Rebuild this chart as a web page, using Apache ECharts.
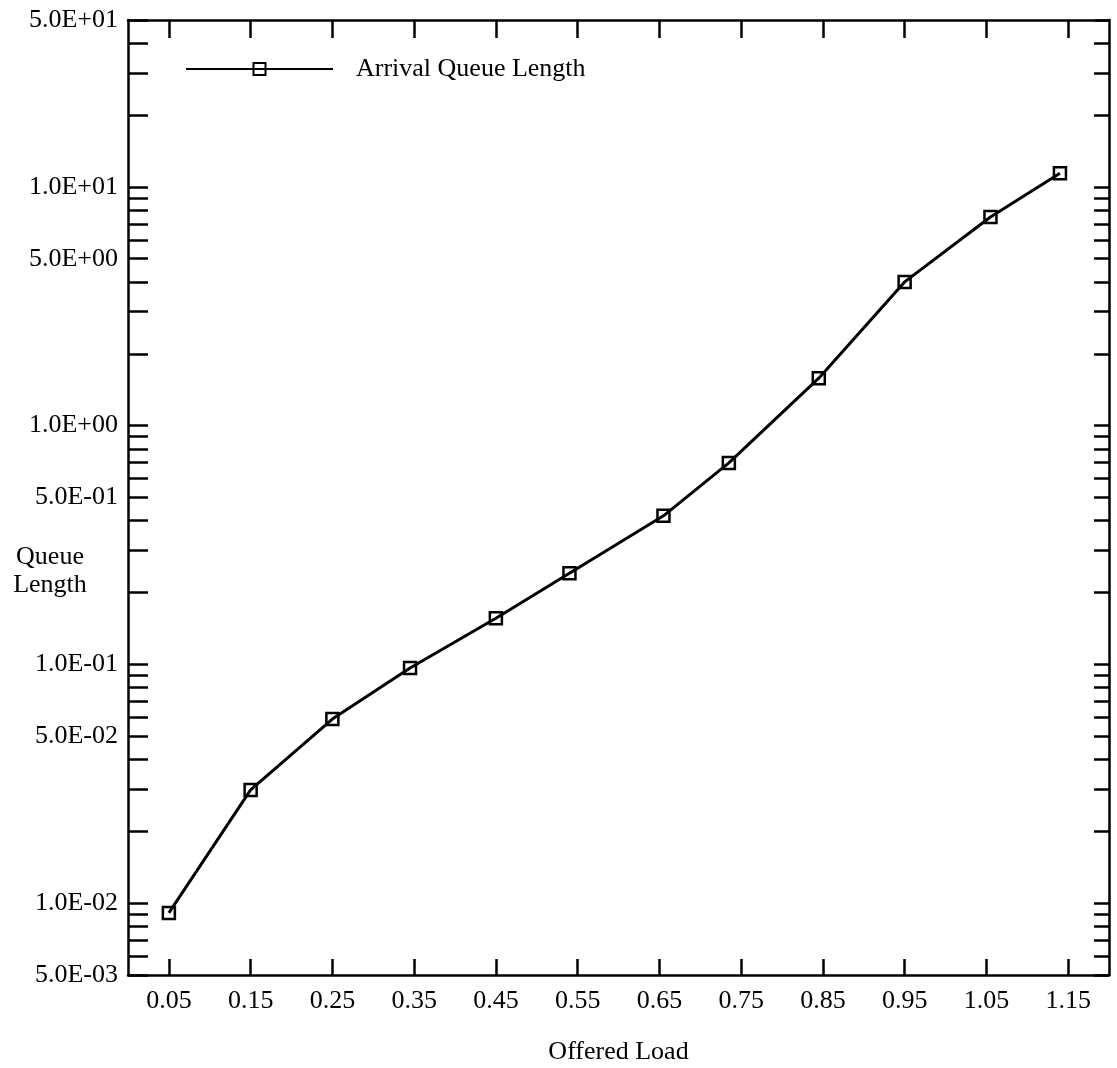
<!DOCTYPE html>
<html><head><meta charset="utf-8">
<script src="https://cdn.jsdelivr.net/npm/echarts@6/dist/echarts.min.js"></script>
<style>html,body{margin:0;padding:0;background:#fff}#c{width:1117px;height:1068px}</style>
</head><body><div id="c"></div>
<script>
const offeredLoad = [0.05, 0.15, 0.25, 0.345, 0.45, 0.54, 0.655, 0.735, 0.845, 0.95, 1.055, 1.14];
const arrivalQueueLength = [0.0091, 0.0298, 0.059, 0.0966, 0.156, 0.241, 0.419, 0.698, 1.58, 4.0, 7.48, 11.4];
const xTickLabels = [0.05, 0.15, 0.25, 0.35, 0.45, 0.55, 0.65, 0.75, 0.85, 0.95, 1.05, 1.15];
const yTickLabels = [0.005, 0.01, 0.05, 0.1, 0.5, 1, 5, 10, 50];
const yTicks = [0.005, 0.006, 0.007, 0.008, 0.009,
  0.01, 0.02, 0.03, 0.04, 0.05, 0.06, 0.07, 0.08, 0.09,
  0.1, 0.2, 0.3, 0.4, 0.5, 0.6, 0.7, 0.8, 0.9,
  1, 2, 3, 4, 5, 6, 7, 8, 9,
  10, 20, 30, 40, 50];

const FONT = 'Liberation Serif';
const FS = 26;
function fmtY(v) {
  const parts = Number(v).toExponential(1).split('e');
  const e = parseInt(parts[1], 10);
  const sign = e < 0 ? '-' : '+';
  const abs = Math.abs(e);
  return parts[0] + 'E' + sign + (abs < 10 ? '0' + abs : '' + abs);
}
const axisLineStyle = { color: '#000', width: 2.5 };
const tickStyle = { color: '#000', width: 2.5 };

const chart = echarts.init(document.getElementById('c'), null, { renderer: 'canvas' });
chart.setOption({
  animation: false,
  backgroundColor: '#fff',
  grid: { left: 128, right: 8, top: 20, bottom: 93, containLabel: false, outerBoundsMode: 'none' },
  legend: {
    data: ['Arrival Queue Length'],
    left: 185, top: 56, padding: 0,
    itemWidth: 147, itemHeight: 15,
    textStyle: { fontFamily: FONT, fontSize: FS, color: '#000', padding: [0, 0, 0, 18] }
  },
  xAxis: [{
    type: 'value', position: 'bottom', min: 0, max: 1.2,
    axisLine: { onZero: false, lineStyle: axisLineStyle },
    axisTick: { inside: true, length: 16, customValues: xTickLabels, lineStyle: tickStyle },
    axisLabel: { customValues: xTickLabels, formatter: v => Number(v).toFixed(2),
      fontFamily: FONT, fontSize: FS, color: '#000', margin: 13 },
    splitLine: { show: false },
    name: 'Offered Load', nameLocation: 'middle', nameGap: 64, nameMoveOverlap: false,
    nameTextStyle: { fontFamily: FONT, fontSize: FS, color: '#000' }
  }, {
    type: 'value', position: 'top', min: 0, max: 1.2,
    axisLine: { onZero: false, lineStyle: axisLineStyle },
    axisTick: { inside: true, length: 18, customValues: xTickLabels, lineStyle: tickStyle },
    axisLabel: { show: false },
    splitLine: { show: false }
  }],
  yAxis: [{
    type: 'log', logBase: 10, position: 'left', min: 0.005, max: 50,
    axisLine: { onZero: false, lineStyle: axisLineStyle },
    axisTick: { inside: true, length: 20, customValues: yTicks, lineStyle: tickStyle },
    axisLabel: { customValues: yTickLabels, formatter: fmtY,
      fontFamily: FONT, fontSize: FS, color: '#000', margin: 10 },
    splitLine: { show: false },
    minorTick: { show: false },
    name: 'Queue\nLength', nameLocation: 'middle', nameRotate: 0, nameGap: 78, nameMoveOverlap: false,
    nameTextStyle: { fontFamily: FONT, fontSize: FS, color: '#000', align: 'center',
      verticalAlign: 'top', lineHeight: 28, padding: [46, 0, 0, 0] }
  }, {
    type: 'log', logBase: 10, position: 'right', min: 0.005, max: 50,
    axisLine: { onZero: false, lineStyle: axisLineStyle },
    axisTick: { inside: true, length: 15, customValues: yTicks, lineStyle: tickStyle },
    axisLabel: { show: false },
    splitLine: { show: false },
    minorTick: { show: false }
  }],
  series: [{
    name: 'Arrival Queue Length',
    type: 'line',
    xAxisIndex: 0, yAxisIndex: 0,
    data: offeredLoad.map((x, i) => [x, arrivalQueueLength[i]]),
    symbol: 'rect', symbolSize: 12,
    itemStyle: { color: 'rgba(0,0,0,0)', borderColor: '#000', borderWidth: 2.5 },
    lineStyle: { color: '#000', width: 3 },
    emphasis: { disabled: true }
  }]
});
</script></body></html>
